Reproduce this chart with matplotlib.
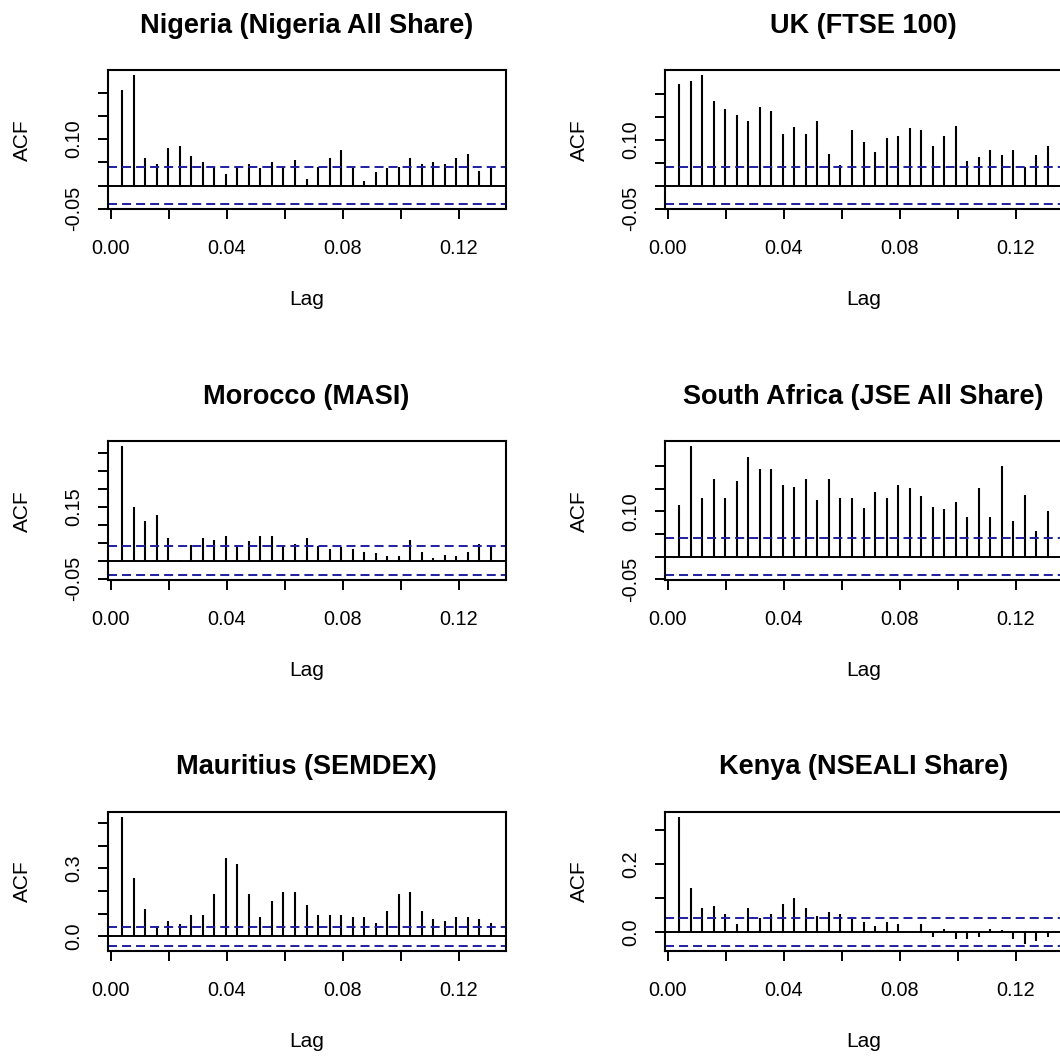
import numpy as np
import matplotlib
matplotlib.use("Agg")
import matplotlib.pyplot as plt

# ACF of daily index returns, lags 1..33 (frequency 252 -> lag in years)
W, H = 1060, 1057
freq = 252
lags = np.arange(1, 34) / freq

titles = ["Nigeria (Nigeria All Share)", "UK (FTSE 100)",
          "Morocco (MASI)", "South Africa (JSE All Share)",
          "Mauritius (SEMDEX)", "Kenya (NSEALI Share)"]

acf_nigeria = [0.206, 0.237, 0.059, 0.046, 0.081, 0.085, 0.063, 0.050, 0.041, 0.024,
               0.041, 0.046, 0.038, 0.050, 0.041, 0.054, 0.015, 0.041, 0.059, 0.076,
               0.037, 0.010, 0.029, 0.038, 0.041, 0.059, 0.046, 0.050, 0.046, 0.059,
               0.068, 0.032, 0.038]
acf_uk = [0.222, 0.227, 0.240, 0.185, 0.167, 0.154, 0.140, 0.172, 0.163, 0.113,
          0.127, 0.113, 0.140, 0.069, 0.045, 0.122, 0.095, 0.073, 0.104, 0.109,
          0.126, 0.121, 0.086, 0.108, 0.130, 0.054, 0.063, 0.077, 0.068, 0.077,
          0.040, 0.068, 0.086]
acf_morocco = [0.319, 0.150, 0.110, 0.127, 0.063, 0.003, 0.044, 0.063, 0.058, 0.069,
               0.044, 0.054, 0.069, 0.069, 0.044, 0.046, 0.063, 0.040, 0.033, 0.038,
               0.033, 0.025, 0.021, 0.012, 0.013, 0.058, 0.023, 0.008, 0.017, 0.012,
               0.023, 0.048, 0.040]
acf_safrica = [0.115, 0.244, 0.129, 0.171, 0.129, 0.167, 0.221, 0.194, 0.194, 0.158,
               0.153, 0.171, 0.126, 0.171, 0.130, 0.130, 0.108, 0.144, 0.130, 0.158,
               0.151, 0.133, 0.110, 0.106, 0.120, 0.088, 0.151, 0.088, 0.201, 0.079,
               0.137, 0.056, 0.101]
acf_mauritius = [0.528, 0.257, 0.122, 0.044, 0.068, 0.056, 0.095, 0.095, 0.185, 0.347,
                 0.320, 0.185, 0.086, 0.158, 0.194, 0.194, 0.140, 0.095, 0.095, 0.095,
                 0.086, 0.086, 0.059, 0.113, 0.185, 0.194, 0.113, 0.077, 0.068, 0.086,
                 0.086, 0.077, 0.059]
acf_kenya = [0.338, 0.129, 0.070, 0.075, 0.052, 0.022, 0.070, 0.040, 0.052, 0.081,
             0.099, 0.070, 0.046, 0.058, 0.052, 0.040, 0.028, 0.016, 0.028, 0.022,
             0.001, 0.024, -0.015, 0.008, -0.021, -0.021, -0.015, 0.008, 0.007, -0.021,
             -0.036, -0.028, -0.015]
acfs = [acf_nigeria, acf_uk, acf_morocco, acf_safrica, acf_mauritius, acf_kenya]

# 95% bounds (1.96/sqrt(n))
clims = [0.040, 0.040, 0.040, 0.041, 0.041, 0.040]

xticks = [0.00, 0.02, 0.04, 0.06, 0.08, 0.10, 0.12]
xticklabels = ["0.00", "", "0.04", "", "0.08", "", "0.12"]

yticks = [[-0.05, 0.0, 0.05, 0.10, 0.15, 0.20],
          [-0.05, 0.0, 0.05, 0.10, 0.15, 0.20],
          [-0.05, 0.0, 0.05, 0.10, 0.15, 0.20, 0.25, 0.30],
          [-0.05, 0.0, 0.05, 0.10, 0.15, 0.20],
          [0.0, 0.1, 0.2, 0.3, 0.4, 0.5],
          [0.0, 0.1, 0.2, 0.3]]
yticklabels = [["-0.05", "", "", "0.10", "", ""],
               ["-0.05", "", "", "0.10", "", ""],
               ["-0.05", "", "", "", "0.15", "", "", ""],
               ["-0.05", "", "", "0.10", "", ""],
               ["0.0", "", "", "0.3", "", ""],
               ["0.0", "", "0.2", ""]]

ci_col = "#1f1f9f"

# box positions in pixels (plot region of each panel)
col_left = [107.5, 664.5]
row_top = [70.3, 441.2, 811.7]
box_w, box_h = 398, 139

plt.rcParams['font.family'] = ['Liberation Sans', 'DejaVu Sans']
plt.rcParams['lines.scale_dashes'] = False

fig = plt.figure(figsize=(W / 100, H / 100), dpi=100)

for i, (title, acf) in enumerate(zip(titles, acfs)):
    r, c = divmod(i, 2)
    x0, y0 = col_left[c], row_top[r]
    ax = fig.add_axes([x0 / W, 1 - (y0 + box_h) / H, box_w / W, box_h / H])

    ax.vlines(lags, 0, acf, color="black", lw=1.5)
    ax.axhline(0, color="black", lw=1.4)
    for s in (clims[i], -clims[i]):
        ax.axhline(s, color=ci_col, lw=1.4, ls=(0, (6.5, 3.6)))

    # R style 4% padding
    lo = min(min(acf), -clims[i])
    hi = max(max(acf), clims[i])
    pad = 0.04 * (hi - lo)
    ax.set_ylim(lo - pad, hi + pad)
    xpad = 0.04 * (lags[-1] - lags[0])
    ax.set_xlim(lags[0] - xpad, lags[-1] + xpad)

    ax.set_xticks(xticks, xticklabels)
    ax.set_yticks(yticks[i], yticklabels[i])
    ax.tick_params(length=7.5, width=1.4, labelsize=14.3, pad=10)
    ax.tick_params(axis="x", pad=14)
    ax.tick_params(axis="y", labelrotation=90)
    for lab in ax.get_yticklabels():
        lab.set_va("center")

    ax.set_title(title, fontsize=19.5, fontweight="bold", pad=27)
    ax.set_xlabel("Lag", fontsize=15, labelpad=23)
    ax.set_ylabel("ACF", fontsize=15, labelpad=23)
    for sp in ax.spines.values():
        sp.set_linewidth(1.5)

fig.savefig("out.png", dpi=100)
